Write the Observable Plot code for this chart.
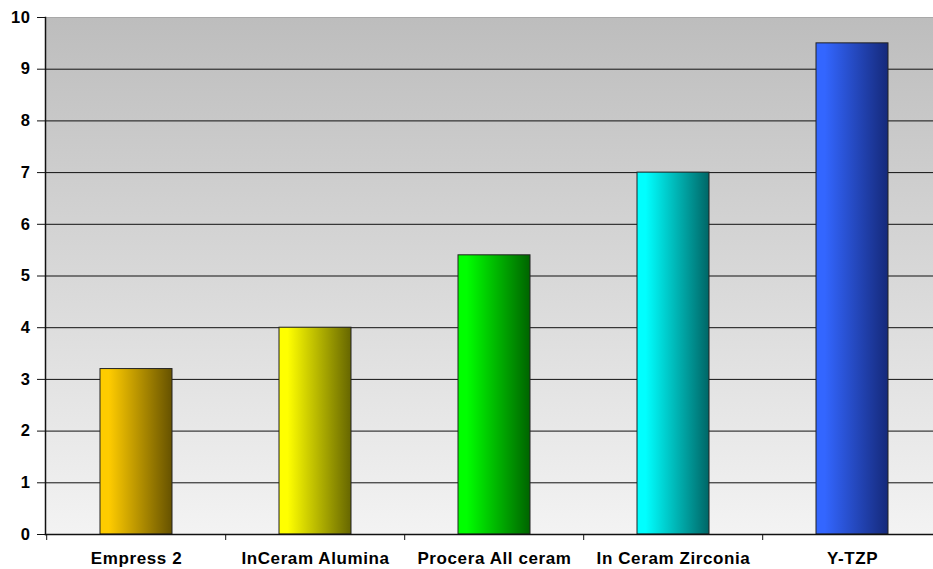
<!DOCTYPE html>
<html>
<head>
<meta charset="utf-8">
<script src="https://cdn.jsdelivr.net/npm/d3@7"></script>
<script src="https://cdn.jsdelivr.net/npm/@observablehq/plot@0.6"></script>
<style>
  html, body { margin: 0; padding: 0; background: #fff; }
  svg { display: block; }
</style>
</head>
<body>
<div id="chart"></div>
<script>
const categories = ["Empress 2", "InCeram Alumina", "Procera All ceram", "In Ceram Zirconia", "Y-TZP"];
const values = [3.2, 4.0, 5.4, 7.0, 9.5];
const lightColors = ["#ffcc00", "#ffff00", "#00ff00", "#00ffff", "#3366ff"];
const darkColors = ["#665200", "#666600", "#006400", "#006666", "#15297a"];
const yTicks = [0, 1, 2, 3, 4, 5, 6, 7, 8, 9, 10];

const data = categories.map((c, i) => ({category: c, value: values[i], fill: `url(#bar${i})`}));

const W = 933, H = 569;
const step = (943 - 45) / categories.length;

const chart = Plot.plot({
  width: W,
  height: H,
  marginLeft: 45,
  marginRight: 0,
  marginTop: 17,
  marginBottom: 35,
  style: {fontFamily: "'Liberation Sans', Arial, sans-serif", background: "#fff", overflow: "visible"},
  x: {domain: categories, range: [45, 943], paddingInner: 0.595, paddingOuter: 0.2975, label: null},
  y: {domain: [0, 10], label: null},
  color: {type: "identity"},
  marks: [
    Plot.frame({fill: "url(#bg)"}),
    Plot.gridY(yTicks.filter(t => t > 0 && t < 10), {stroke: "#111", strokeOpacity: 1, strokeWidth: 1}),
    Plot.gridY([10], {stroke: "#a8a8a8", strokeOpacity: 1, strokeWidth: 1}),
    Plot.barY(data, {x: "category", y: "value", fill: "fill", stroke: "#222", strokeWidth: 1}),
    Plot.frame({anchor: "left", stroke: "#111", strokeWidth: 1.5}),
    Plot.frame({anchor: "bottom", stroke: "#111", strokeWidth: 1.5}),
    Plot.axisY(yTicks, {tickSize: 8, tickPadding: 7, tickFormat: d => String(d), stroke: "#111", fontSize: 16.5, fontWeight: "bold", fill: "#000", label: null}),
    Plot.axisX({tickSize: 6, text: null, dx: -step / 2, stroke: "#111", label: null}),
    Plot.axisX({tickSize: 0, tickPadding: 17, fontSize: 17, fontWeight: "bold", fill: "#000", label: null})
  ]
});

const svg = d3.select(chart);
const defs = svg.insert("defs", ":first-child");
const bg = defs.append("linearGradient").attr("id", "bg").attr("x1", 0).attr("y1", 0).attr("x2", 0).attr("y2", 1);
bg.append("stop").attr("offset", "0%").attr("stop-color", "#bdbdbd");
bg.append("stop").attr("offset", "100%").attr("stop-color", "#f3f3f3");
categories.forEach((c, i) => {
  const g = defs.append("linearGradient").attr("id", `bar${i}`).attr("x1", 0).attr("y1", 0).attr("x2", 1).attr("y2", 0);
  g.append("stop").attr("offset", "0%").attr("stop-color", lightColors[i]);
  g.append("stop").attr("offset", "12%").attr("stop-color", lightColors[i]);
  g.append("stop").attr("offset", "100%").attr("stop-color", darkColors[i]);
});
svg.selectAll("text").style("letter-spacing", "0.6px");

document.getElementById("chart").appendChild(chart);
</script>
</body>
</html>
